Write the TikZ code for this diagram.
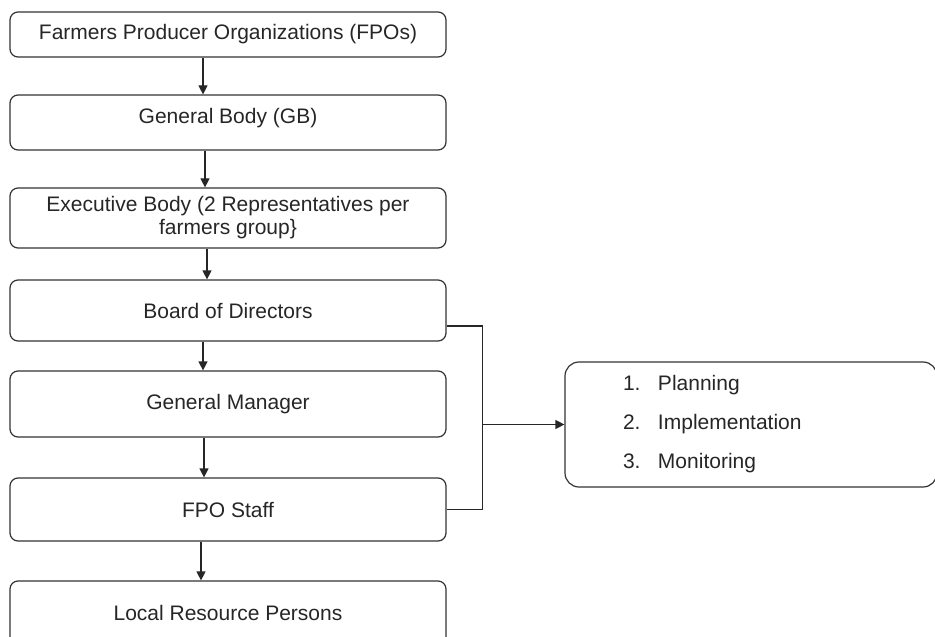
\documentclass[tikz,border=0pt]{standalone}
\usepackage{fontspec}
\setmainfont{Liberation Sans}
\usetikzlibrary{positioning}
\usetikzlibrary{arrows.meta}
\tikzset{orgbox/.style={draw=black!80, line width=0.6pt, rounded corners=4pt, minimum width=218pt, align=center, font=\fontsize{10.5}{11.5}\selectfont, text=black!85}}
\tikzset{link/.style={-{Triangle[length=4.5pt, width=4.5pt]}, black!85, line width=0.6pt}}
\tikzset{wire/.style={black!85, line width=0.6pt}}

\begin{document}
\begin{tikzpicture}[x=0.5pt, y=-0.5pt]
    \useasboundingbox (0,0) rectangle (935,636);

    \node[orgbox, minimum height=22.5pt] (fpo) at (228, 34.5) {Farmers Producer Organizations (FPOs)};
    \node[orgbox, minimum height=27.5pt, text depth=7pt] (gb) at (228, 122.5) {General Body (GB)};
    \node[orgbox, minimum height=30pt] (exec) at (228, 218) {Executive Body (2 Representatives per\\ farmers group\}};
    \node[orgbox, minimum height=30.5pt] (bod) at (228, 310.5) {Board of Directors};
    \node[orgbox, minimum height=33pt] (gm) at (228, 404) {General Manager};
    \node[orgbox, minimum height=31.5pt] (staff) at (228, 509.5) {FPO Staff};
    \node[orgbox, minimum height=32pt] (lrp) at (228, 613) {Local Resource Persons};

    \node[orgbox, rounded corners=7pt, minimum width=186pt, minimum height=62.5pt, text width=128pt, inner xsep=29pt,
        align=left, font=\fontsize{10.5}{19.5}\selectfont] (tasks) at (751, 424.5)
        {\makebox[17.5pt][l]{1.}Planning\\ \makebox[17.5pt][l]{2.}Implementation\\ \makebox[17.5pt][l]{3.}Monitoring};

    \draw[link] ([xshift=-12.5pt]fpo.south) -- ([xshift=-12.5pt]gb.north);
    \draw[link] ([xshift=-11.5pt]gb.south) -- ([xshift=-11.5pt]exec.north);
    \draw[link] ([xshift=-10.5pt]exec.south) -- ([xshift=-10.5pt]bod.north);
    \draw[link] ([xshift=-12.5pt]bod.south) -- ([xshift=-12.5pt]gm.north);
    \draw[link] ([xshift=-12pt]gm.south) -- ([xshift=-12pt]staff.north);
    \draw[link] ([xshift=-13.5pt]staff.south) -- ([xshift=-13.5pt]lrp.north);

    \draw[wire] ([yshift=-7.75pt]bod.east) -- ++(18pt, 0) coordinate (bus) |- (staff.east);
    \draw[link] (bus |- tasks.west) -- (tasks.west);

    % \draw[help lines] (0,0) grid[step=50] (935,636);
\end{tikzpicture}
\end{document}
